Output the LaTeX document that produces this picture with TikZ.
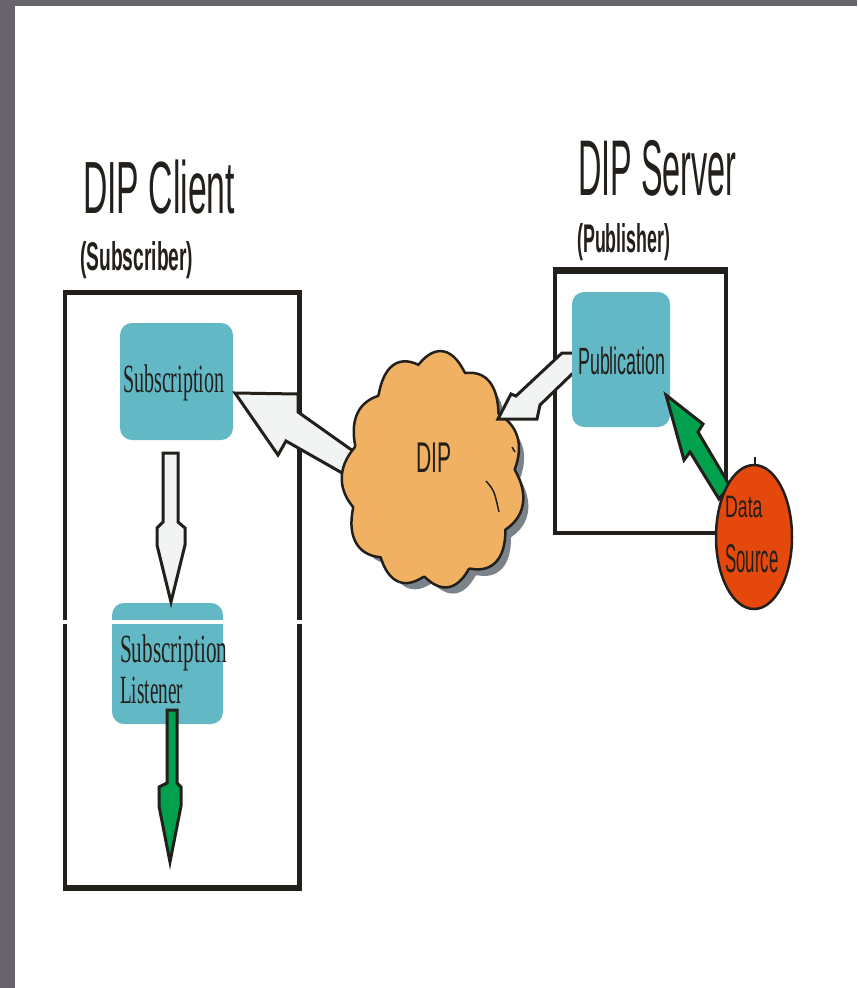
\documentclass[tikz,border=0pt]{standalone}
\usepackage{fontspec}
\usetikzlibrary{shapes.geometric}
\setmainfont{Liberation Serif}
\setsansfont{Liberation Sans}
\definecolor{framegray}{HTML}{67646B}
\definecolor{tealc}{HTML}{62B9C5}
\definecolor{cloudc}{HTML}{F0B262}
\definecolor{shadowc}{HTML}{7A828A}
\definecolor{greenc}{HTML}{00A04C}
\definecolor{redc}{HTML}{E4480C}
\definecolor{arrowwhite}{HTML}{F2F4F4}
\definecolor{inkc}{HTML}{231F1B}
\tikzset{
  framebox/.style={draw=inkc, line width=4.5pt},
  tealbox/.style={fill=tealc, rounded corners=12pt, inner sep=0pt},
  hollowarrow/.style={draw=inkc, fill=arrowwhite, line width=3pt, line join=miter},
  greenarrow/.style={draw=inkc, fill=greenc, line width=3pt, line join=miter},
  lbl/.style={inner sep=0pt, anchor=base west, text=inkc},
}
\begin{document}
\begin{tikzpicture}[x=1pt,y=-1pt]
\fill[framegray] (0,0) rectangle (857,988);
\fill[white] (15,6) rectangle (857,988);
\useasboundingbox (0,0) rectangle (857,988);

% titles
\node[lbl] (clienttitle) at (83,213) {\sffamily\fontsize{74}{76}\selectfont\scalebox{0.456}[1]{DIP Client}};
\node[lbl] (clientsub) at (80,270) {\sffamily\bfseries\fontsize{40}{42}\selectfont\scalebox{0.48}[1]{(Subscriber)}};
\node[lbl] (servertitle) at (578,195) {\sffamily\fontsize{79}{80}\selectfont\scalebox{0.41}[1]{DIP Server}};
\node[lbl] (serversub) at (577,252) {\sffamily\bfseries\fontsize{40}{42}\selectfont\scalebox{0.445}[1]{(Publisher)}};

% frames
\draw[framebox] (65,292.5) rectangle (299.5,887);
\draw[line width=4pt, inkc] (63,889) -- (301.5,889);
\draw[framebox] (555,272) rectangle (726,533);
\draw[line width=6pt, inkc] (552.8,270) -- (728.2,270);

% client boxes
\node[tealbox, minimum width=113pt, minimum height=117pt] (sub) at (176.5,381.5) {};
\node[tealbox, minimum width=111pt, minimum height=121pt] (listener) at (167.5,663.5) {};
\draw[white, line width=3.5pt] (55,622) -- (312,622);

% hollow arrow sub -> listener
\draw[hollowarrow] (163,453) -- (178,453) -- (178,522) -- (185,528) -- (185,545) -- (171,602)
  -- (157,545) -- (157,528) -- (163,522) -- cycle;
% green arrow out of listener
\draw[greenarrow] (167,710) -- (177,710) -- (177,783) -- (181,787) -- (181,806) -- (170,862)
  -- (159,806) -- (159,787) -- (167,783) -- cycle;

% big hollow arrow cloud -> subscription
\draw[hollowarrow] (235,393) -- (298,394) -- (298,412) -- (370,463) -- (365,486)
  -- (286,441) -- (278,455) -- cycle;

% cloud
\fill[shadowc] plot[domain=0:360, samples=361, smooth]
  ({441+88*cos(\x)*(0.9+0.1*abs(sin(5.5*\x+10)))*(1+0.03*sin(3*\x))}, {482+116*sin(\x)*(0.9+0.1*abs(sin(5.5*\x+10)))*(1+0.03*sin(3*\x))}) -- cycle;
\draw[fill=cloudc, draw=inkc, line width=2.5pt] plot[domain=0:360, samples=361, smooth]
  ({433+91*cos(\x)*(0.9+0.1*abs(sin(5.5*\x+10)))*(1+0.03*sin(3*\x))}, {473+119*sin(\x)*(0.9+0.1*abs(sin(5.5*\x+10)))*(1+0.03*sin(3*\x))}) -- cycle;
\draw[inkc, line width=1.5pt] (486,481) .. controls (494,490) .. (499,512);
\draw[inkc, line width=1.5pt] (512,447) -- (515,452);
\coordinate (cloud) at (432,473);
\node[lbl] (diplbl) at (416,472) {\sffamily\fontsize{43}{44}\selectfont\scalebox{0.49}[1]{DIP}};

% arrow publication -> cloud
\draw[hollowarrow] (498,419) -- (511,394) -- (516,396) -- (562,353) -- (585,353) -- (585,374)
  -- (572,374) -- (540,405) -- (537,419) -- cycle;

% publication
\node[tealbox, minimum width=98pt, minimum height=135pt] (pub) at (621,359.5) {};

% green arrow data source -> publication
\draw[greenarrow] (666,395) -- (703,424) -- (698,432) -- (730,486) -- (719,499) -- (690,452)
  -- (684,460) -- cycle;

% data source
\draw[inkc, line width=2.5pt] (755,457) -- (755,467);
\node[ellipse, draw=inkc, fill=redc, line width=2.5pt, minimum width=76pt, minimum height=144pt, inner sep=0pt] (ds) at (754,537) {};

% labels
\node[lbl] (sublbl) at (123,392) {\rmfamily\fontsize{40}{42}\selectfont\scalebox{0.5}[1]{Subscription}};
\node[lbl] (listlbl1) at (120,662) {\rmfamily\fontsize{40}{42}\selectfont\scalebox{0.53}[1]{Subscription}};
\node[lbl] (listlbl2) at (120,703) {\rmfamily\fontsize{40}{42}\selectfont\scalebox{0.48}[1]{Listener}};
\node[lbl] (publbl) at (578,374) {\sffamily\fontsize{38}{40}\selectfont\scalebox{0.47}[1]{Publication}};
\node[lbl] (dslbl1) at (725,517) {\sffamily\fontsize{31}{33}\selectfont\scalebox{0.57}[1]{Data}};
\node[lbl] (dslbl2) at (725,572) {\sffamily\fontsize{40}{42}\selectfont\scalebox{0.42}[1]{Source}};
\end{tikzpicture}
\end{document}
